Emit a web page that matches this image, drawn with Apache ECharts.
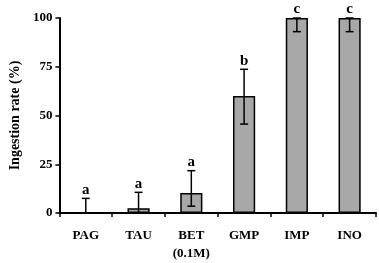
<!DOCTYPE html>
<html>
<head>
<meta charset="utf-8">
<script src="https://cdn.jsdelivr.net/npm/echarts@6/dist/echarts.min.js"></script>
<style>
    html, body { margin: 0; padding: 0; background: #fff; }
    #chart { width: 379px; height: 263px; }
</style>
</head>
<body>
<div id="chart"></div>
<script>
// data
const categories = ['PAG', 'TAU', 'BET\n(0.1M)', 'GMP', 'IMP', 'INO'];
const ingestion = [0, 2.5, 10.3, 60, 100, 100];
const errLow = [0, 0, 3.5, 45.6, 93, 93];
const errHigh = [7.5, 10.6, 21.7, 73.7, 100, 100];
const groups = ['a', 'a', 'a', 'b', 'c', 'c'];
const yTicks = [0, 25, 50, 75, 100];

const serif = '"Liberation Serif", "Times New Roman", serif';

const chart = echarts.init(document.getElementById('chart'));

const errorData = categories.map((c, i) => [i, errLow[i], errHigh[i], groups[i]]);

const option = {
    animation: false,
    grid: {
        left: 52,
        right: 3,
        top: 18,
        bottom: 46
    },
    xAxis: {
        type: 'category',
        data: categories,
        axisLine: { lineStyle: { color: '#000', width: 2 } },
        axisTick: { show: true, length: 4, lineStyle: { color: '#000', width: 1.5 } },
        axisLabel: {
            color: '#000',
            fontFamily: serif,
            fontWeight: 'bold',
            fontSize: 13,
            margin: 14,
            lineHeight: 18
        }
    },
    yAxis: {
        type: 'value',
        min: 0,
        max: 100,
        interval: 25,
        name: 'Ingestion rate (%)',
        nameLocation: 'middle',
        nameGap: 32,
        nameTextStyle: {
            color: '#000',
            fontFamily: serif,
            fontWeight: 'bold',
            fontSize: 14
        },
        splitLine: { show: false },
        axisLine: { show: true, lineStyle: { color: '#000', width: 2 } },
        axisTick: { show: true, length: 4, lineStyle: { color: '#000', width: 1.5 } },
        axisLabel: {
            color: '#000',
            fontFamily: serif,
            fontWeight: 'bold',
            fontSize: 13,
            margin: 7,
            formatter: v => (yTicks.indexOf(v) >= 0 ? v : '')
        }
    },
    series: [
        {
            type: 'bar',
            data: ingestion,
            barWidth: '42%',
            itemStyle: {
                color: '#a8a8a8',
                borderColor: '#000',
                borderWidth: 1.5
            },
            z: 2
        },
        {
            type: 'custom',
            data: errorData,
            z: 3,
            renderItem: (params, api) => {
                const x = api.value(0);
                const lo = api.coord([x, api.value(1)]);
                const hi = api.coord([x, api.value(2)]);
                const cap = 4;
                const style = { stroke: '#000', lineWidth: 1.5 };
                return {
                    type: 'group',
                    children: [
                        { type: 'line', shape: { x1: lo[0], y1: lo[1], x2: hi[0], y2: hi[1] }, style },
                        { type: 'line', shape: { x1: lo[0] - cap, y1: lo[1], x2: lo[0] + cap, y2: lo[1] }, style },
                        { type: 'line', shape: { x1: hi[0] - cap, y1: hi[1], x2: hi[0] + cap, y2: hi[1] }, style },
                        {
                            type: 'text',
                            x: hi[0],
                            y: hi[1] - 1,
                            style: {
                                text: api.value(3),
                                fill: '#000',
                                font: 'bold 15px ' + serif,
                                textAlign: 'center',
                                textVerticalAlign: 'bottom'
                            }
                        }
                    ]
                };
            }
        }
    ]
};

chart.setOption(option);
window.addEventListener('resize', () => chart.resize());
</script>
</body>
</html>
